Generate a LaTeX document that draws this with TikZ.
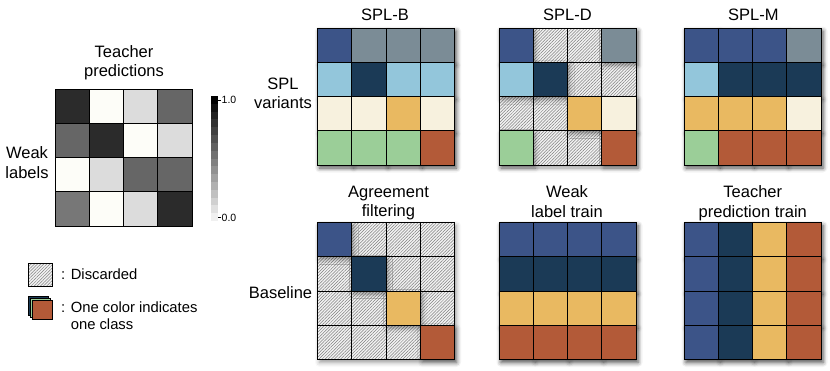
\documentclass[tikz,border=0pt]{standalone}
\usepackage{fontspec}
\setmainfont{Liberation Sans}
\usetikzlibrary{shadows.blur,patterns.meta}
\definecolor{cN}{HTML}{3C5488}
\definecolor{cG}{HTML}{7B8C96}
\definecolor{cL}{HTML}{93C6DB}
\definecolor{cD}{HTML}{1B3A56}
\definecolor{cC}{HTML}{F7F1DE}
\definecolor{cY}{HTML}{E9B961}
\definecolor{cE}{HTML}{9BCE98}
\definecolor{cO}{HTML}{B35A38}
\definecolor{hK}{HTML}{2B2B2B}
\definecolor{hW}{HTML}{FDFDF8}
\definecolor{hL}{HTML}{DCDCDC}
\definecolor{hM}{HTML}{666666}
\definecolor{hN}{HTML}{777777}
\definecolor{hatchbg}{HTML}{F2F2F2}
\definecolor{hatchln}{HTML}{808080}
\tikzset{
  lbl/.style={font=\fontsize{16.5}{19.3}\selectfont, align=center, inner sep=0pt, anchor=north},
  leg/.style={font=\fontsize{14.8}{17.3}\selectfont, align=left, inner sep=0pt, anchor=north west},
  tick/.style={font=\fontsize{10.5}{12}\selectfont, inner sep=0pt, anchor=west},
  cell/.style={draw=black, line width=1.1pt, minimum size=34.25pt, inner sep=0pt, anchor=north west},
  hatched/.style={preaction={fill=hatchbg}, pattern={Lines[angle=45,distance=2.2pt,line width=0.5pt]}, pattern color=hatchln},
  shd/.style={blur shadow={shadow xshift=2.5pt,shadow yshift=-3.5pt,shadow blur radius=4.5pt,shadow opacity=40}},
}
\newcommand{\cellgrid}[4]{%
  \path[shd] (#2,#3) rectangle ++(137,137);
  \foreach \c [count=\i from 0] in {#4} {%
    \pgfmathtruncatemacro{\rr}{\i/4}%
    \pgfmathtruncatemacro{\kk}{mod(\i,4)}%
    \if\c H
      \node[cell,hatched] (#1-\rr-\kk) at ({#2+\kk*34.25},{#3+\rr*34.25}) {};
    \fi
  }%
  \foreach \c [count=\i from 0] in {#4} {%
    \pgfmathtruncatemacro{\rr}{\i/4}%
    \pgfmathtruncatemacro{\kk}{mod(\i,4)}%
    \if\c H\else
      \path[shd] ({#2+\kk*34.25},{#3+\rr*34.25}) rectangle ++(34.25,34.25);
    \fi
  }%
  \foreach \c [count=\i from 0] in {#4} {%
    \pgfmathtruncatemacro{\rr}{\i/4}%
    \pgfmathtruncatemacro{\kk}{mod(\i,4)}%
    \if\c H\else
      \node[cell,fill=c\c] (#1-\rr-\kk) at ({#2+\kk*34.25},{#3+\rr*34.25}) {};
    \fi
  }%
}
\begin{document}
\begin{tikzpicture}[x=1pt,y=-1pt]
\useasboundingbox (0,0) rectangle (830,370);
% ---- teacher/weak heatmap
\foreach \c [count=\i from 0] in {K,W,L,M, M,K,W,L, W,L,M,M, N,W,L,K} {
  \pgfmathtruncatemacro{\rr}{\i/4}
  \pgfmathtruncatemacro{\kk}{mod(\i,4)}
  \node[cell,fill=h\c] (hm-\rr-\kk) at ({54.5+\kk*34.25},{88.5+\rr*34.25}) {};
}
\node[lbl] (tp) at (124,45) {Teacher\\predictions};
\node[lbl] (wl) at (27,146.7) {Weak\\labels};
% ---- colorbar
\foreach \i in {0,...,15} {
  \pgfmathsetmacro{\p}{6+\i*94/15}
  \fill[black!\p] (211,{221-(\i+1)*7.8125}) rectangle (218,{221-\i*7.8125});
}
\draw[line width=0.6pt] (218,100) -- (221,100);
\draw[line width=0.6pt] (218,217.5) -- (221,217.5);
\node[tick] (c1) at (221.5,100) {1.0};
\node[tick] (c0) at (221.5,217.5) {0.0};
% ---- legend
\node[cell,hatched,minimum size=23.4pt,line width=1pt] (lh) at (28.3,262.7) {};
\node[leg] (ld) at (61,268.8) {: Discarded};
\node[cell,fill=cD,minimum size=19.3pt,line width=0.9pt] (ls1) at (28.3,296) {};
\node[cell,fill=cE,minimum size=19.3pt,line width=0.9pt] (ls2) at (30.3,298) {};
\node[cell,fill=cO,minimum size=19.3pt,line width=0.9pt] (ls3) at (32.3,300) {};
\node[leg] (lc) at (61,301.2) {: One color indicates\\\hphantom{: }one class};
% ---- titles
\node[lbl] (tb) at (385,8.5) {SPL-B};
\node[lbl] (td) at (567.5,8.5) {SPL-D};
\node[lbl] (tm) at (753.3,8.5) {SPL-M};
\node[lbl] (sv) at (283,77.7) {SPL\\variants};
\node[lbl] (ta) at (388.5,185.7) {Agreement\\filtering};
\node[lbl] (bl) at (280.5,286) {Baseline};
\node[lbl] (tw) at (567,185.7) {Weak\\label train};
\node[lbl] (tt) at (752.8,185.7) {Teacher\\prediction train};
% ---- grids
\cellgrid{splb}{317}{27.5}{N,G,G,G, L,D,L,L, C,C,Y,C, E,E,E,O}
\cellgrid{spld}{498.5}{27.5}{N,H,H,G, L,D,H,H, H,H,Y,C, E,H,H,O}
\cellgrid{splm}{683.5}{27.5}{N,N,N,G, L,D,D,D, Y,Y,Y,C, E,O,O,O}
\cellgrid{agf}{317}{222}{N,H,H,H, H,D,H,H, H,H,Y,H, H,H,H,O}
\cellgrid{wlt}{498.5}{222}{N,N,N,N, D,D,D,D, Y,Y,Y,Y, O,O,O,O}
\cellgrid{tpt}{683.5}{222}{N,D,Y,O, N,D,Y,O, N,D,Y,O, N,D,Y,O}
\end{tikzpicture}
\end{document}
